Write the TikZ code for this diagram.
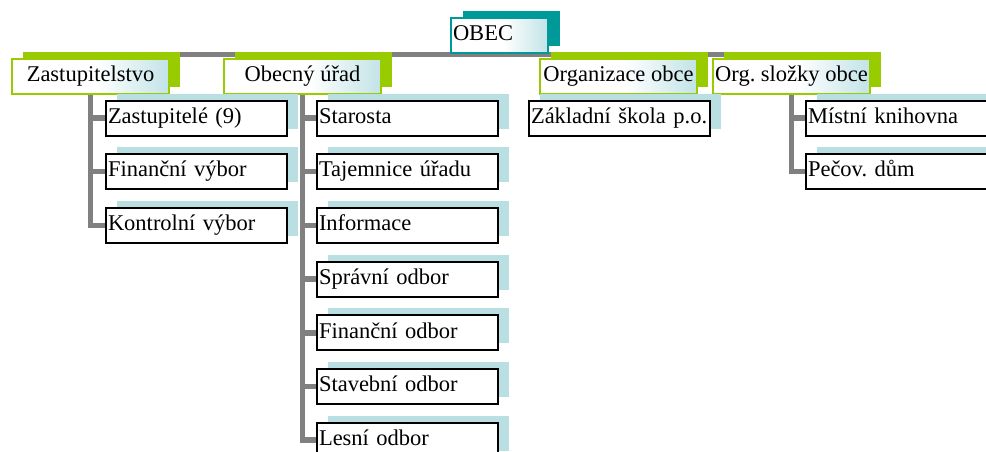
\documentclass[tikz,border=0pt]{standalone}
\usepackage{fontspec}
\setmainfont{Liberation Serif}
\usetikzlibrary{shadows}
\definecolor{lgreen}{HTML}{99CC00}
\definecolor{dteal}{HTML}{009999}
\definecolor{lblue}{HTML}{B9DFE2}
\definecolor{shadeteal}{HTML}{C2E3E7}
\definecolor{conngray}{HTML}{808080}
\pgfdeclarehorizontalshading{topshade}{100bp}{color(0bp)=(white); color(25bp)=(white); color(52bp)=(white); color(75bp)=(shadeteal); color(100bp)=(shadeteal)}
\pgfdeclarelayer{bg}
\pgfsetlayers{bg,main}
\begin{document}
\frenchspacing
\begin{tikzpicture}[x=1pt,y=-1pt,
  every node/.style={font=\fontsize{22.5}{27}\selectfont, inner sep=0pt, text height=16pt, text depth=5.5pt, anchor=north west},
  topbox/.style={draw=lgreen, line width=2pt, shading=topshade,
    minimum width=157pt, minimum height=35pt,
    general shadow={fill=lgreen, shadow xshift=11pt, shadow yshift=7pt}},
  rootbox/.style={draw=dteal, line width=2pt, shading=topshade,
    text width=93pt, inner xsep=2pt, align=left, minimum height=35pt,
    general shadow={fill=dteal, shadow xshift=12pt, shadow yshift=7pt}},
  childbox/.style={draw=black, line width=2pt, fill=white,
    text width=177pt, inner xsep=2pt, align=left, minimum height=35pt,
    general shadow={fill=lblue, shadow xshift=11pt, shadow yshift=7pt}},
  conn/.style={draw=conngray, line width=5.5pt}
]
\useasboundingbox (0,0) rectangle (986,451);
\clip (0,0) rectangle (986,451);

\node[rootbox] (obec) at (450,17) {OBEC};

\node[topbox] (zast) at (11,58) {Zastupitelstvo};
\node[topbox] (obecny) at (223,58) {Obecný úřad};
\node[topbox] (orgz) at (539,58) {Organizace obce};
\node[topbox] (orgs) at (712,58) {Org. složky obce};

% Zastupitelstvo
\node[childbox] (z1) at (105,99.5) {Zastupitelé (9)};
\node[childbox] (z2) at (105,153.2) {Finanční výbor};
\node[childbox] (z3) at (105,206.9) {Kontrolní výbor};

% Obecny urad
\node[childbox] (u1) at (316,99.5) {Starosta};
\node[childbox] (u2) at (316,153.2) {Tajemnice úřadu};
\node[childbox] (u3) at (316,206.9) {Informace};
\node[childbox] (u4) at (316,260.6) {Správní odbor};
\node[childbox] (u5) at (316,314.3) {Finanční odbor};
\node[childbox] (u6) at (316,368.0) {Stavební odbor};
\node[childbox] (u7) at (316,421.7) {Lesní odbor};

% Organizace obce
\node[childbox] (o1) at (528,99.5) {Základní škola p.o.};

% Org. slozky obce
\node[childbox] (s1) at (805,99.5) {Místní knihovna};
\node[childbox] (s2) at (805,153.2) {Pečov. dům};

\coordinate (bus) at (0,54.5);

\begin{pgfonlayer}{bg}
  \draw[conn] (zast.center) |- (obec.south |- bus) -| (orgs.center);
  \draw[conn] (obec.south) -- (obec.south |- bus);
  \draw[conn] (obecny.center) -- (obecny.center |- bus);
  \draw[conn] (orgz.center) -- (orgz.center |- bus);

  \draw[conn] (zast.south) |- (z3.west);
  \foreach \c in {z1,z2} \draw[conn] (zast.south |- \c.west) -- (\c.west);

  \draw[conn] (obecny.south) |- (u7.west);
  \foreach \c in {u1,u2,u3,u4,u5,u6} \draw[conn] (obecny.south |- \c.west) -- (\c.west);

  \draw[conn] (orgz.south) -- (orgz.south |- o1.north);

  \draw[conn] (orgs.south) |- (s2.west);
  \draw[conn] (orgs.south |- s1.west) -- (s1.west);
\end{pgfonlayer}
\end{tikzpicture}
\end{document}
